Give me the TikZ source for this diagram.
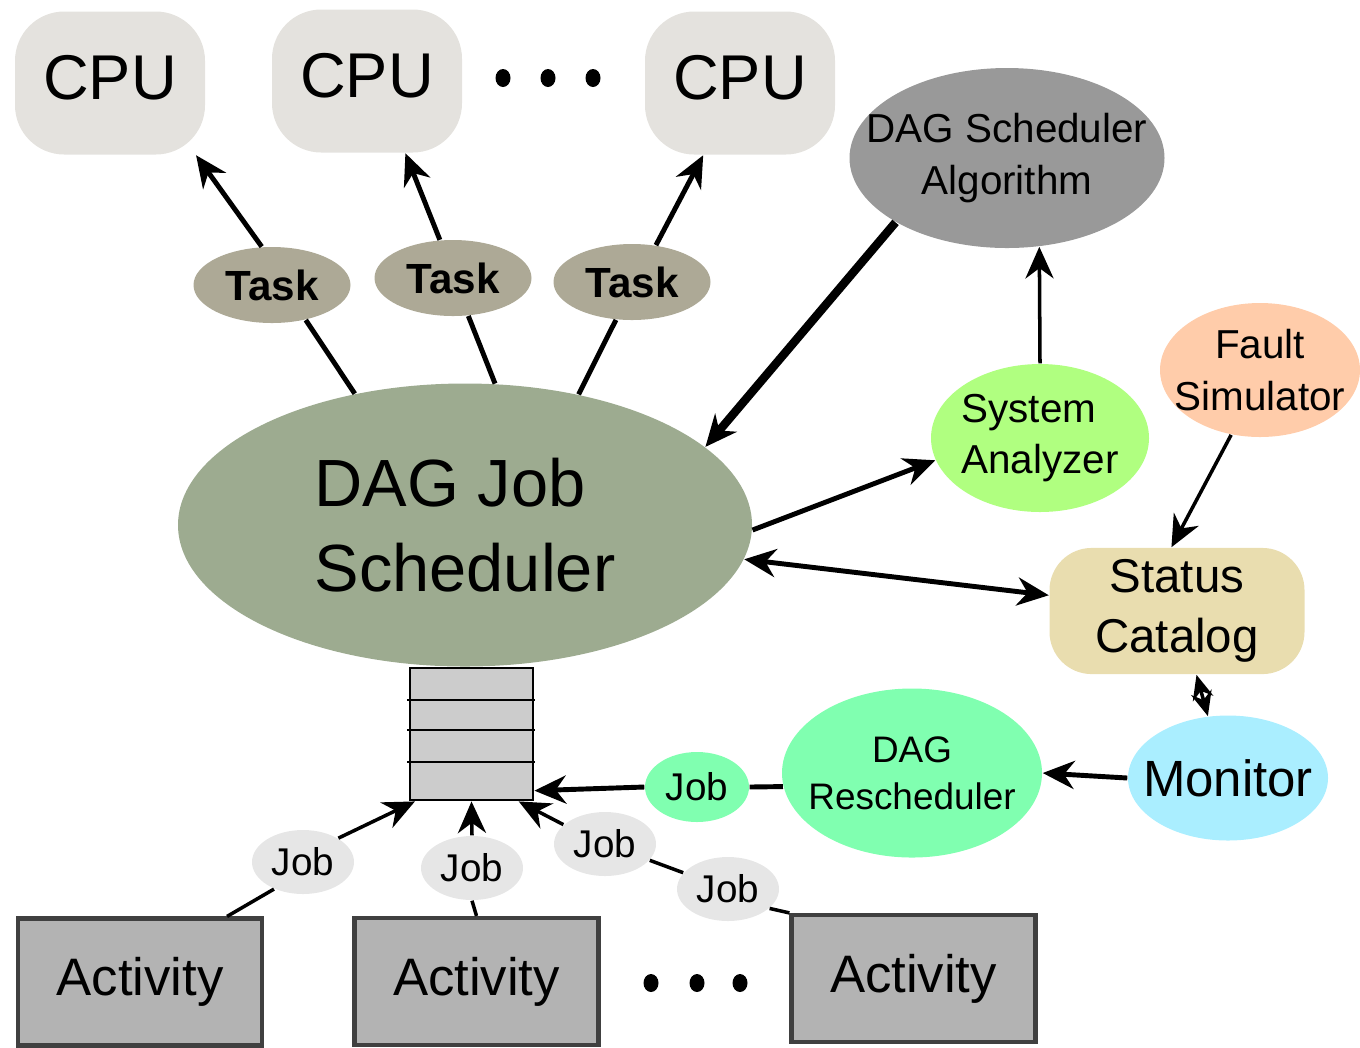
\documentclass[tikz,border=0pt]{standalone}
\usepackage{fontspec}
\setmainfont{Liberation Sans}
\usetikzlibrary{arrows.meta, shapes.geometric}
\definecolor{CpuGrey}{RGB}{228, 226, 222}
\definecolor{TaskBrown}{RGB}{173, 169, 150}
\definecolor{SchedGreen}{RGB}{157, 171, 144}
\definecolor{AlgoGrey}{RGB}{153, 153, 153}
\definecolor{AnalyzerGreen}{RGB}{176, 255, 128}
\definecolor{FaultPeach}{RGB}{255, 204, 170}
\definecolor{CatalogTan}{RGB}{233, 221, 175}
\definecolor{MonitorBlue}{RGB}{170, 238, 255}
\definecolor{ReschedGreen}{RGB}{128, 255, 176}
\definecolor{JobGrey}{RGB}{230, 230, 230}
\definecolor{QueueGrey}{RGB}{204, 204, 204}
\definecolor{ActGrey}{RGB}{179, 179, 179}

\begin{document}
\begin{tikzpicture}[
  >={Stealth[length=9pt,width=8pt]},
  cpu/.style={rectangle, rounded corners=14pt, fill=CpuGrey, minimum width=1.9cm, minimum height=1.43cm, inner sep=0pt, text height=0.46cm, text depth=0.14cm, font=\fontsize{18}{20}\selectfont},
  blob/.style={ellipse, inner sep=-0.4cm, align=center},
  task/.style={blob, fill=TaskBrown, minimum width=1.57cm, minimum height=0.76cm, font=\bfseries\fontsize{12}{14}\selectfont},
  job/.style={blob, fill=JobGrey, minimum width=1.02cm, minimum height=0.64cm, font=\fontsize{11}{13}\selectfont},
  activity/.style={rectangle, draw=black!75, line width=1.2pt, fill=ActGrey, minimum width=2.44cm, minimum height=1.27cm, inner sep=0pt, font=\fontsize{15}{17}\selectfont},
  link/.style={line width=1.4pt},
  thinlink/.style={line width=1pt}
]
\useasboundingbox (0,0) rectangle (13.6,-10.47);

% processors
\node[cpu] (cpu1) at (1.10,-0.83) {CPU};
\node[cpu] (cpu2) at (3.67,-0.81) {CPU};
\node[cpu] (cpu3) at (7.40,-0.83) {CPU};
\foreach \x in {5.03,5.48,5.93} \fill (\x,-0.78) ellipse (0.075 and 0.09);

\node[task] (task1) at (2.72,-2.85) {Task};
\node[task] (task2) at (4.53,-2.78) {Task};
\node[task] (task3) at (6.32,-2.82) {Task};

% scheduler and services
\node[blob, fill=SchedGreen, minimum width=5.74cm, minimum height=2.83cm, align=left, font=\fontsize{19}{24}\selectfont] (sched) at (4.65,-5.25) {DAG Job\\Scheduler};
\node[blob, fill=AlgoGrey, minimum width=3.15cm, minimum height=1.8cm, font=\fontsize{11.5}{15}\selectfont] (algo) at (10.07,-1.58) {DAG Scheduler\\Algorithm};
\node[blob, fill=AnalyzerGreen, minimum width=2.18cm, minimum height=1.48cm, align=left, font=\fontsize{11.5}{14.5}\selectfont] (analyzer) at (10.40,-4.38) {System\\Analyzer};
\node[blob, fill=FaultPeach, minimum width=2.0cm, minimum height=1.34cm, font=\fontsize{11.5}{15}\selectfont] (fault) at (12.60,-3.70) {Fault\\Simulator};
\node[rectangle, rounded corners=12pt, fill=CatalogTan, minimum width=2.55cm, minimum height=1.18cm, align=center, font=\fontsize{13.5}{17}\selectfont] (catalog) at (11.77,-6.11) {Status\\Catalog};
\node[blob, fill=MonitorBlue, minimum width=2.0cm, minimum height=1.25cm, font=\fontsize{14.5}{17}\selectfont] (monitor) at (12.28,-7.78) {Monitor};
\node[blob, fill=ReschedGreen, minimum width=2.6cm, minimum height=1.69cm, font=\fontsize{10.5}{13.5}\selectfont] (resched) at (9.12,-7.73) {DAG\\Rescheduler};
\node[job, fill=ReschedGreen, minimum width=1.04cm, minimum height=0.70cm] (jobg) at (6.97,-7.87) {Job};

% job queue
\node[rectangle, draw, thick, fill=QueueGrey, minimum width=1.23cm, minimum height=1.32cm, inner sep=0pt] (queue) at (4.715,-7.34) {};
\foreach \y in {7.00,7.30,7.62} \draw[thick] (4.07,-\y) -- (5.35,-\y);

\node[job] (job1) at (3.03,-8.62) {Job};
\node[job] (job2) at (4.72,-8.68) {Job};
\node[job] (job3) at (6.05,-8.44) {Job};
\node[job] (job4) at (7.28,-8.89) {Job};

\node[activity] (act1) at (1.40,-9.82) {Activity};
\node[activity] (act2) at (4.765,-9.815) {Activity};
\node[activity] (act3) at (9.135,-9.785) {Activity};
\foreach \x in {6.51,6.97,7.40} \fill (\x,-9.83) ellipse (0.075 and 0.09);

% connectors
\draw[link] (sched.130) -- (task1.-46);
\draw[link,->] (task1.105) -- (cpu1.-40);
\draw[link] (sched.78) -- (task2.-68);
\draw[link,->] (task2.109) -- (cpu2.-62);
\draw[link] (sched.49) -- (task3.-113);
\draw[link,->] (task3.57) -- (cpu3.-117);
\draw[line width=2.4pt,->] (algo.-150) -- (sched.18);
\draw[thinlink,->] (analyzer.north) -- (algo.-70);
\draw[link,->] (sched.-1) -- (analyzer.192);
\draw[link,<->] (sched.-7) -- (catalog.173);
\draw[thinlink,->] (fault.-114) -- (catalog.95);
\draw[thinlink,<->,>={Stealth[length=7pt,width=6pt]}] (catalog.-73) -- (monitor.108);
\draw[link,->] (monitor.west) -- (resched.east);
\draw[link] (resched.186) -- (jobg.east);
\draw[link,->] (jobg.west) -- (queue.-42);
\draw[thinlink] (act1.37) -- (job1.223);
\draw[thinlink,->] (job1.34) -- (queue.-130);
\draw[thinlink] (act2.north) -- (job2.south);
\draw[thinlink,->] (job2.north) -- (queue.south);
\draw[thinlink] (act3.north west) -- (job4.-25);
\draw[thinlink] (job4.160) -- (job3.-20);
\draw[thinlink,->] (job3.155) -- (queue.-55);
\end{tikzpicture}
\end{document}
